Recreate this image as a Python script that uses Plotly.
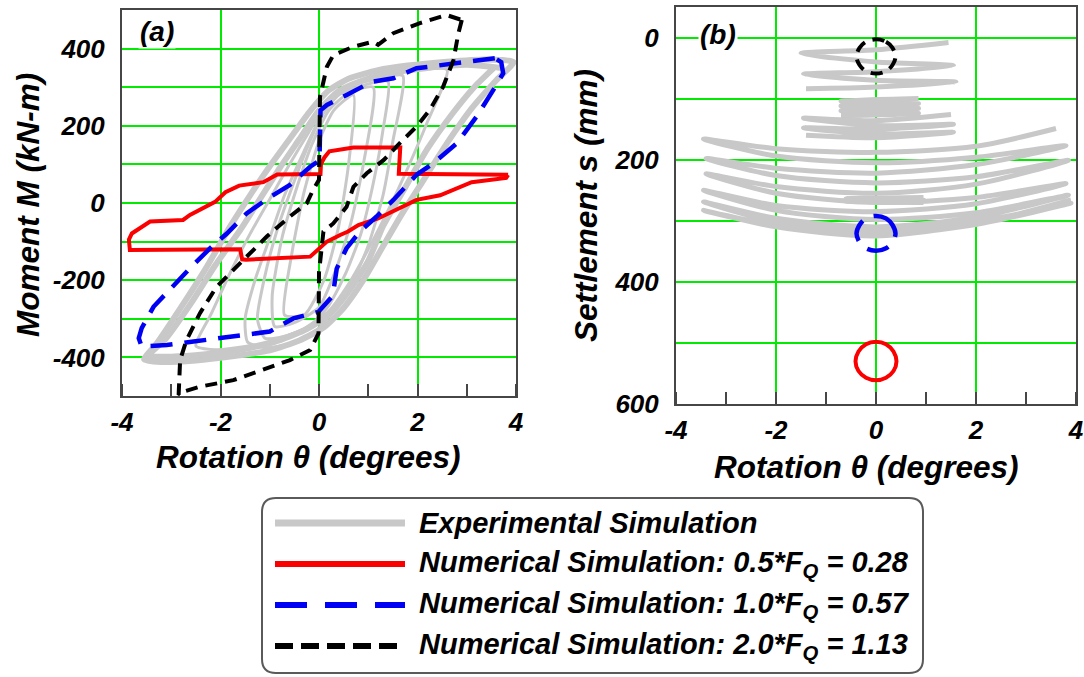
import plotly.graph_objects as go

# ---------------- Panel (a): moment-rotation ----------------
# Experimental hysteresis loops (rotation in degrees, moment in kN-m); None breaks loops
exp_a_outer_theta = [3.95, 3.4, 2.6, 1.8, 1.2, 0.6, 0.2, -0.2, -0.6, -1.0, -1.4, -1.8, -2.3, -2.8, -3.3, -3.55,
                     -3.2, -2.5, -1.8, -1.0, -0.4, 0.1, 0.5, 0.9, 1.3, 1.7, 2.1, 2.6, 3.1, 3.6, 3.95, None,
                     3.7, 3.0, 2.2, 1.5, 0.9, 0.4, 0.0, -0.4, -0.8, -1.2, -1.6, -2.1, -2.6, -3.1, -3.45,
                     -3.0, -2.3, -1.6, -0.9, -0.3, 0.2, 0.6, 1.0, 1.3, 1.75, 2.2, 2.7, 3.15, 3.55, 3.85]
exp_a_outer_moment = [365, 372, 366, 356, 344, 322, 292, 235, 165, 95, 20, -60, -170, -270, -365, -405,
                      -412, -408, -398, -382, -356, -322, -272, -200, -112, -25, 55, 155, 245, 318, 365, None,
                      350, 358, 350, 338, 318, 290, 240, 165, 90, 10, -70, -160, -260, -350, -395,
                      -398, -392, -380, -360, -330, -290, -230, -150, -60, 40, 140, 230, 300, 350]

exp_a_inner_theta = [2.6, 2.0, 1.3, 0.7, 0.2, -0.2, -0.6, -1.0, -1.4, -1.8, -2.2, -2.5,
                     -2.1, -1.5, -0.9, -0.3, 0.2, 0.6, 1.0, 1.4, 1.8, 2.2, 2.6, None,
                     1.7, 1.2, 0.7, 0.3, 0.0, -0.3, -0.7, -1.0, -1.3, -1.5, -1.45,
                     -1.1, -0.6, -0.1, 0.3, 0.7, 1.0, 1.3, 1.5, 1.7, None,
                     1.4, 0.9, 0.4, 0.05, -0.25, -0.55, -0.85, -1.1, -1.25, -1.1,
                     -0.7, -0.2, 0.2, 0.55, 0.85, 1.1, 1.3, 1.4, None,
                     1.1, 0.6, 0.2, -0.15, -0.45, -0.75, -0.95, -0.9,
                     -0.5, 0.0, 0.35, 0.65, 0.9, 1.1, None,
                     0.7, 0.3, 0.0, -0.3, -0.55, -0.7, -0.3, 0.1, 0.4, 0.6, 0.7]
exp_a_inner_moment = [345, 345, 335, 310, 265, 185, 100, 10, -80, -180, -290, -370,
                      -380, -372, -355, -325, -280, -210, -120, -20, 90, 210, 345, None,
                      330, 322, 305, 270, 215, 135, 20, -90, -200, -300, -360,
                      -375, -365, -335, -280, -200, -110, 20, 160, 330, None,
                      315, 305, 280, 225, 140, 40, -70, -190, -300, -350,
                      -345, -320, -265, -180, -80, 50, 190, 315, None,
                      300, 285, 240, 150, 40, -90, -240, -320,
                      -310, -270, -170, -50, 100, 300, None,
                      280, 240, 160, 30, -130, -290, -290, -200, -60, 100, 280]

# Numerical simulation, 0.5*FQ
num05_theta = [3.84, 1.62, 1.65, 0.70, 0.21, 0.11, 0.04, 0.03, -0.85, -1.13, -1.62, -1.90, -2.11, -2.42,
               -2.62, -2.76, -3.43, -3.80, -3.86, -3.84, -1.60, -1.56, -1.48, -0.18, 0.02, 0.16, 0.43,
               0.59, 0.80, 0.97, 1.20, 1.98, 2.46, 3.10, 3.80, 3.84]
num05_moment = [73, 76, 144, 144, 134, 118, 101, 75, 74, 54, 45, 28, 3, -16,
                -31, -44, -48, -79, -95, -122, -120, -146, -147, -139, -117, -100, -83,
                -74, -57, -49, -40, 8, 20, 54, 65, 73]

# Numerical simulation, 1.0*FQ
num10_theta = [3.57, 3.07, 1.98, 1.51, 1.07, 0.56, 0.16, 0.03, 0.02, 0.01, -0.18, -0.59, -1.0, -1.47,
               -1.87, -2.21, -2.62, -2.99, -3.36, -3.60, -3.66, -3.60, -3.09, -2.55, -2.0, -1.47, -1.0,
               -0.52, -0.01, 0.28, 0.36, 0.56, 0.83, 1.17, 1.51, 1.98, 2.32, 2.80, 3.20, 3.54, 3.74, 3.70, 3.57]
num10_moment = [375, 366, 349, 323, 314, 280, 254, 240, 180, 110, 94, 47, 15, -27,
                -79, -117, -169, -217, -269, -324, -350, -372, -368, -359, -350, -342, -333,
                -299, -282, -240, -170, -117, -74, -35, 8, 73, 103, 155, 224, 293, 336, 365, 375]

# Numerical simulation, 2.0*FQ
num20_theta = [2.90, 2.83, 2.73, 2.52, 2.25, 1.98, 1.64, 1.31, 0.97, 0.70, 0.56, 0.29, 0.09, 0.0, -0.01,
               -0.18, -0.59, -1.06, -1.74, -2.42, -2.76, -2.85, -2.82, -2.69, -2.42, -2.08, -1.60, -1.06,
               -0.59, -0.25, -0.12, 0.0, 0.02, 0.09, 0.16, 0.29, 0.70, 1.10, 1.20, 1.51, 2.05, 2.59, 2.90]
num20_moment = [474, 440, 370, 301, 241, 198, 155, 111, 77, 42, -10, -53, -74, -180, -338,
                -381, -407, -428, -459, -476, -489, -497, -407, -355, -286, -217, -156, -87,
                -35, -1, 34, 60, 275, 318, 353, 383, 405, 418, 410, 440, 466, 487, 474]

# ---------------- Panel (b): settlement-rotation ----------------
exp_b_theta = [1.45, 0, -1.5, 0, 1.55, 0, -1.45, 0, 1.6, 0, -1.4, None,
               0.85, -0.7, 0.85, -0.7, 0.85, -0.7, 0.85, -0.7, None,
               1.5, 0, -1.45, 0, 1.55, 0, -1.45, 0, 1.55, 0, -1.4, None,
               3.6, 2, 0, -2, -3.45, -2, 0, 2, 3.8, 2, 0, -2, -3.4, -2, 0, 2, 3.85,
               2, 0, -2, -3.4, -2, 0, 2, 3.8, 2, 0, -2, -3.45, -2, 0, 2, 3.85,
               2, 0, -2, -3.45, -2, 0, 2, 3.9, 2, 0, -2, -3.45, -2, 0, 2, 3.9, None,
               0.95, -0.6, 0.95, -0.6, 0.95]
exp_b_settle = [8, 20, 26, 40, 46, 56, 60, 70, 73, 81, 84, None,
                100, 104, 108, 112, 116, 120, 124, 128, None,
                126, 136, 132, 144, 142, 150, 148, 158, 155, 164, 160, None,
                149, 178, 188, 182, 166, 194, 205, 196, 177, 208, 222, 214, 198, 226, 238, 228, 201,
                240, 255, 244, 223, 255, 270, 262, 239, 272, 285, 275, 250, 283, 298, 287, 258,
                294, 310, 296, 269, 302, 318, 302, 271, 306, 323, 308, 283, 310, 325, 305, 266, None,
                262, 264, 266, 268, 270]

num05_b_theta = [0.0, 0.2, 0.35, 0.41, 0.35, 0.2, 0.0, -0.2, -0.35, -0.41, -0.35, -0.2, 0.0]
num05_b_settle = [498, 502, 514, 530, 546, 557, 561, 557, 546, 530, 514, 502, 498]
num10_b_theta = [0.0, 0.2, 0.33, 0.39, 0.33, 0.2, 0.0, -0.2, -0.33, -0.39, -0.33, -0.2, 0.0]
num10_b_settle = [292, 296, 307, 321, 335, 345, 349, 345, 335, 321, 307, 296, 292]
num20_b_theta = [0.0, 0.2, 0.33, 0.39, 0.33, 0.2, 0.0, -0.2, -0.33, -0.39, -0.33, -0.2, 0.0]
num20_b_settle = [3, 7, 17, 31, 45, 55, 59, 55, 45, 31, 17, 7, 3]

# Tick positions and labels
theta_ticks = [-4, -2, 0, 2, 4]
theta_labels = ["-4", "-2", "0", "2", "4"]
moment_ticks = [-400, -200, 0, 200, 400]
moment_labels = ["-400", "-200", "0", "200", "400"]
settle_ticks = [0, 200, 400, 600]
settle_labels = ["0", "200", "400", "600"]

legend_names = ["Experimental Simulation",
                "Numerical Simulation: 0.5*F<sub>Q</sub> = 0.28",
                "Numerical Simulation: 1.0*F<sub>Q</sub> = 0.57",
                "Numerical Simulation: 2.0*F<sub>Q</sub> = 1.13"]

GRAY = "rgb(200,200,200)"
RED = "rgb(250,0,0)"
BLUE = "rgb(0,0,245)"
BLACK = "rgb(0,0,0)"
GREEN = "rgb(0,235,0)"
FRAME = "rgb(70,70,70)"
FONT = "Liberation Sans, Arial, sans-serif"

W, H = 1084, 677


def px(x):
    return x / W


def py(y):
    return 1 - y / H


fig = go.Figure()

# Panel (a) traces
fig.add_trace(go.Scatter(x=exp_a_outer_theta, y=exp_a_outer_moment, mode="lines",
                         line=dict(color=GRAY, width=6, shape="spline", smoothing=0.6),
                         xaxis="x", yaxis="y", showlegend=False, connectgaps=False))
fig.add_trace(go.Scatter(x=exp_a_inner_theta, y=exp_a_inner_moment, mode="lines",
                         line=dict(color=GRAY, width=3, shape="spline", smoothing=0.6),
                         xaxis="x", yaxis="y", showlegend=False, connectgaps=False))
fig.add_trace(go.Scatter(x=num05_theta, y=num05_moment, mode="lines",
                         line=dict(color=RED, width=4),
                         xaxis="x", yaxis="y", showlegend=False))
fig.add_trace(go.Scatter(x=num10_theta, y=num10_moment, mode="lines",
                         line=dict(color=BLUE, width=4.5, dash="22px,12px"),
                         xaxis="x", yaxis="y", showlegend=False))
fig.add_trace(go.Scatter(x=num20_theta, y=num20_moment, mode="lines",
                         line=dict(color=BLACK, width=4, dash="12px,8px"),
                         xaxis="x", yaxis="y", showlegend=False))

# Panel (b) traces
fig.add_trace(go.Scatter(x=exp_b_theta, y=exp_b_settle, mode="lines",
                         line=dict(color=GRAY, width=5, shape="spline", smoothing=0.8),
                         xaxis="x2", yaxis="y2", showlegend=False, connectgaps=False))
fig.add_trace(go.Scatter(x=num05_b_theta, y=num05_b_settle, mode="lines",
                         line=dict(color=RED, width=4, shape="spline"),
                         xaxis="x2", yaxis="y2", showlegend=False))
fig.add_trace(go.Scatter(x=num10_b_theta, y=num10_b_settle, mode="lines",
                         line=dict(color=BLUE, width=4.5, shape="spline", dash="22px,12px"),
                         xaxis="x2", yaxis="y2", showlegend=False))
fig.add_trace(go.Scatter(x=num20_b_theta, y=num20_b_settle, mode="lines",
                         line=dict(color=BLACK, width=4, shape="spline", dash="12px,8px"),
                         xaxis="x2", yaxis="y2", showlegend=False))

tick_font = dict(family=FONT, size=26, color="black", weight="bold", style="italic")

xaxis_common = dict(range=[-4, 4], tickmode="array", tickvals=theta_ticks, ticktext=theta_labels,
                    ticks="", showgrid=True, gridcolor=GREEN, gridwidth=1.5, zeroline=False,
                    showline=True, linecolor=FRAME, linewidth=2, mirror=True, automargin=False,
                    tickfont=tick_font, ticklabelstandoff=2,
                    minor=dict(dtick=1, tick0=0, ticks="inside", ticklen=12, tickwidth=2,
                               tickcolor=FRAME, showgrid=False))

yaxis_common = dict(ticks="", showgrid=True, gridcolor=GREEN, gridwidth=1.5, zeroline=False,
                    showline=True, linecolor=FRAME, linewidth=2, mirror=True, automargin=False,
                    tickfont=tick_font, ticklabelstandoff=10, tickmode="array",
                    minor=dict(dtick=100, tick0=0, showgrid=True, gridcolor=GREEN, gridwidth=1.5, ticks=""))

fig.update_layout(
    width=W, height=H, margin=dict(l=0, r=0, t=0, b=0, autoexpand=False),
    paper_bgcolor="white", plot_bgcolor="white",
    font=dict(family=FONT, color="black"),
    xaxis=dict(domain=[px(122), px(516)], anchor="y", **xaxis_common),
    yaxis=dict(domain=[py(396), py(10)], anchor="x", range=[-500, 500],
               tickvals=moment_ticks, ticktext=moment_labels, **yaxis_common),
    xaxis2=dict(domain=[px(676), px(1076)], anchor="y2", **xaxis_common),
    yaxis2=dict(domain=[py(404), py(7)], anchor="x2", range=[600, -50],
                tickvals=settle_ticks, ticktext=settle_labels, **yaxis_common),
)

title_font = dict(family=FONT, size=31.5, color="black", weight="bold", style="italic")
label_font = dict(family=FONT, size=28, color="black", weight="bold", style="italic")
legend_font = dict(family=FONT, size=29, color="black", weight="bold", style="italic")

annotations = [
    dict(text="Rotation θ (degrees)", x=px(308), y=py(457), xref="paper", yref="paper",
         showarrow=False, font=title_font, xanchor="center", yanchor="middle"),
    dict(text="Rotation θ (degrees)", x=px(866), y=py(467), xref="paper", yref="paper",
         showarrow=False, font=title_font, xanchor="center", yanchor="middle"),
    dict(text="Moment M (kN-m)", x=px(28), y=py(205), xref="paper", yref="paper",
         showarrow=False, font=title_font, textangle=-90, xanchor="center", yanchor="middle"),
    dict(text="Settlement s (mm)", x=px(586), y=py(206), xref="paper", yref="paper",
         showarrow=False, font=title_font, textangle=-90, xanchor="center", yanchor="middle"),
    dict(text="(a)", x=px(157), y=py(32), xref="paper", yref="paper", showarrow=False,
         font=label_font, xanchor="center", yanchor="middle", bgcolor="white"),
    dict(text="(b)", x=px(718), y=py(35), xref="paper", yref="paper", showarrow=False,
         font=label_font, xanchor="center", yanchor="middle", bgcolor="white"),
]

# Legend box with rounded corners
x0, x1, y0, y1, r = 262, 923, 498, 673, 14
box_path = (f"M {px(x0 + r)},{py(y0)} L {px(x1 - r)},{py(y0)} Q {px(x1)},{py(y0)} {px(x1)},{py(y0 + r)} "
            f"L {px(x1)},{py(y1 - r)} Q {px(x1)},{py(y1)} {px(x1 - r)},{py(y1)} "
            f"L {px(x0 + r)},{py(y1)} Q {px(x0)},{py(y1)} {px(x0)},{py(y1 - r)} "
            f"L {px(x0)},{py(y0 + r)} Q {px(x0)},{py(y0)} {px(x0 + r)},{py(y0)} Z")
shapes = [dict(type="path", path=box_path, xref="paper", yref="paper",
               line=dict(color="rgb(90,90,90)", width=2), fillcolor="white", layer="below")]

row_y = [523, 564, 605, 646]
sample_styles = [dict(color=GRAY, width=7, dash="solid"),
                 dict(color=RED, width=6, dash="solid"),
                 dict(color=BLUE, width=6, dash="32px,18px"),
                 dict(color=BLACK, width=6, dash="18px,8px")]
for yy, style, name in zip(row_y, sample_styles, legend_names):
    shapes.append(dict(type="line", xref="paper", yref="paper", x0=px(275), x1=px(405),
                       y0=py(yy), y1=py(yy), line=style))
    annotations.append(dict(text=name, x=px(417), y=py(yy), xref="paper", yref="paper",
                            showarrow=False, font=legend_font, xanchor="left", yanchor="middle"))

fig.update_layout(annotations=annotations, shapes=shapes)

fig.write_html("out.html")
